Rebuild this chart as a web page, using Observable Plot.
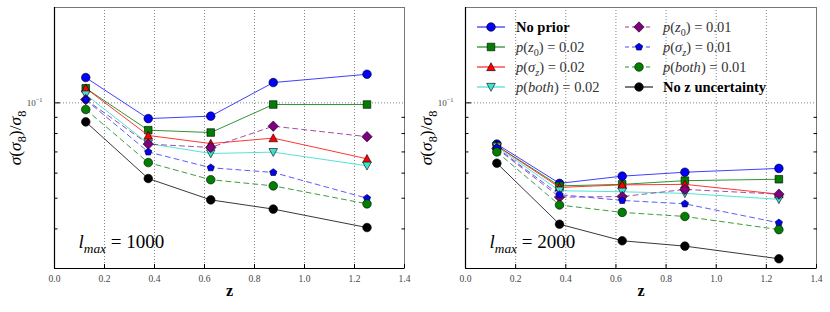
<!DOCTYPE html>
<html><head><meta charset="utf-8">
<script src="https://cdn.jsdelivr.net/npm/d3@7"></script>
<script src="https://cdn.jsdelivr.net/npm/@observablehq/plot@0.6"></script>
<style>
body{margin:0;background:#fff;}
#wrap{position:relative;width:830px;height:312px;display:flex;}
#wrap svg{display:block;}
#legend{position:absolute;left:415px;top:0;pointer-events:none;}
</style></head><body><div id="wrap"></div>
<script>
// ---- data ----
const zBins = [0.125, 0.375, 0.625, 0.875, 1.25];
const xTicks = [0, 0.2, 0.4, 0.6, 0.8, 1.0, 1.2, 1.4];
const xGrid = [0.2, 0.4, 0.6, 0.8, 1.0, 1.2];
const yMajor = [0.1];
const yMinor = [0.04, 0.05, 0.06, 0.07, 0.08, 0.09];
const yDomain = [0.03, 0.2];
const xDomain = [0, 1.4];

// lmax = 1000
const noPrior_1000   = [0.1202, 0.0892, 0.0908, 0.1159, 0.1231];
const pz0_002_1000   = [0.1112, 0.0820, 0.0806, 0.0988, 0.0988];
const psz_002_1000   = [0.1112, 0.0789, 0.0744, 0.0774, 0.0666];
const pboth_002_1000 = [0.1062, 0.0744, 0.0692, 0.0699, 0.0633];
const pz0_001_1000   = [0.1024, 0.0741, 0.0723, 0.0844, 0.0782];
const psz_001_1000   = [0.1022, 0.0700, 0.0624, 0.0603, 0.0500];
const pboth_001_1000 = [0.0953, 0.0648, 0.0572, 0.0547, 0.0480];
const noZ_1000       = [0.0871, 0.0577, 0.0494, 0.0462, 0.0404];

// lmax = 2000
const noPrior_2000   = [0.0741, 0.0557, 0.0587, 0.0604, 0.0621];
const pz0_002_2000   = [0.0732, 0.0547, 0.0553, 0.0568, 0.0574];
const psz_002_2000   = [0.0732, 0.0541, 0.0551, 0.0553, 0.0515];
const pboth_002_2000 = [0.0727, 0.0528, 0.0524, 0.0518, 0.0496];
const pz0_001_2000   = [0.0718, 0.0504, 0.0506, 0.0533, 0.0515];
const psz_001_2000   = [0.0721, 0.0513, 0.0492, 0.0480, 0.0418];
const pboth_001_2000 = [0.0700, 0.0476, 0.0451, 0.0438, 0.0398];
const noZ_2000       = [0.0645, 0.0414, 0.0367, 0.0353, 0.0322];

// legend labels (rich text parts)
const legendLabels = [
  [{t:"No prior", b:true}],
  [{t:"p",it:true},{t:"("},{t:"z",it:true},{t:"0",sub:true},{t:") = 0.02"}],
  [{t:"p",it:true},{t:"("},{t:"σ",it:true},{t:"z",it:true,sub:true},{t:") = 0.02"}],
  [{t:"p",it:true},{t:"("},{t:"both",it:true},{t:") = 0.02"}],
  [{t:"p",it:true},{t:"("},{t:"z",it:true},{t:"0",sub:true},{t:") = 0.01"}],
  [{t:"p",it:true},{t:"("},{t:"σ",it:true},{t:"z",it:true,sub:true},{t:") = 0.01"}],
  [{t:"p",it:true},{t:"("},{t:"both",it:true},{t:") = 0.01"}],
  [{t:"No z uncertainty", b:true}]
];
const yLabelParts = [{t:"σ",it:true},{t:"("},{t:"σ",it:true},{t:"8",sub:true},{t:")/"},{t:"σ",it:true},{t:"8",sub:true}];
const lmaxParts1 = [{t:"l",it:true},{t:"max",it:true,sub:true},{t:" = 1000"}];
const lmaxParts2 = [{t:"l",it:true},{t:"max",it:true,sub:true},{t:" = 2000"}];

// ---- symbols ----
const symbols = {
  circle: {draw(c, s){ const r = Math.sqrt(s/Math.PI); c.moveTo(r,0); c.arc(0,0,r,0,2*Math.PI); c.closePath(); }},
  square: {draw(c, s){ const h = Math.sqrt(s/Math.PI); c.rect(-h,-h,2*h,2*h); }},
  triUp: {draw(c, s){ const h = Math.sqrt(s/Math.PI); c.moveTo(0,-h); c.lineTo(h,h*0.85); c.lineTo(-h,h*0.85); c.closePath(); }},
  triDown: {draw(c, s){ const h = Math.sqrt(s/Math.PI); c.moveTo(0,h); c.lineTo(h,-h*0.85); c.lineTo(-h,-h*0.85); c.closePath(); }},
  diamond: {draw(c, s){ const h = Math.sqrt(s/Math.PI); c.moveTo(0,-h); c.lineTo(h,0); c.lineTo(0,h); c.lineTo(-h,0); c.closePath(); }},
  pentagon: {draw(c, s){ const h = Math.sqrt(s/Math.PI); for (let k=0;k<5;k++){ const a=-Math.PI/2+k*2*Math.PI/5; const x=h*Math.cos(a), y=h*Math.sin(a); if(k===0) c.moveTo(x,y); else c.lineTo(x,y);} c.closePath(); }}
};

const seriesStyle = [
  {color:"#0000ff", line:"#2a2aff", dash:null,  symbol:"circle",   r:4.3},
  {color:"#008000", line:"#1a8a1a", dash:null,  symbol:"square",   r:3.8},
  {color:"#ff0000", line:"#ff2020", dash:null,  symbol:"triUp",    r:4.3},
  {color:"#40e0d0", line:"#40e0d0", dash:null,  symbol:"triDown",  r:4.3},
  {color:"#800080", line:"#9a3a9a", dash:"5,4", symbol:"diamond",  r:5.2},
  {color:"#0000ff", line:"#4a4aff", dash:"5,4", symbol:"pentagon", r:3.8},
  {color:"#008000", line:"#2a922a", dash:"5,4", symbol:"circle",   r:4.3},
  {color:"#000000", line:"#222222", dash:null,  symbol:"circle",   r:4.3}
];

const SERIF = "'Liberation Serif', serif";

function setRich(sel, parts, base) {
  sel.each(function() {
    const t = d3.select(this);
    t.text(null);
    let shift = 0;
    for (const p of parts) {
      const target = p.sub ? 0.28 : p.sup ? -0.42 : 0;
      const ts = t.append("tspan").text(p.t);
      ts.attr("font-style", p.it ? "italic" : "normal");
      if (p.b) ts.attr("font-weight", "bold");
      if (p.sub || p.sup) ts.attr("font-size", (base*0.7) + "px");
      const delta = (target - shift) * base;
      if (delta) ts.attr("dy", delta);
      shift = target;
    }
  });
}

function textsWith(svg, s) {
  return d3.select(svg).selectAll("text").filter(function(){ return this.textContent === s; });
}

function makePanel(seriesValues, lmaxParts, ml, mr) {
  const rows = [];
  seriesValues.forEach((vals, s) => vals.forEach((v, j) => rows.push({s, z: zBins[j], v})));
  const grid = {stroke:"#333", strokeOpacity:0.75, strokeDasharray:"1,2", strokeWidth:0.8};
  const marks = [
    Plot.gridX(xGrid, grid),
    Plot.gridY(yMajor, grid)
  ];
  seriesValues.forEach((vals, s) => {
    const st = seriesStyle[s];
    const d = rows.filter(r => r.s === s);
    marks.push(Plot.line(d, {x:"z", y:"v", stroke: st.line, strokeWidth:1, strokeOpacity:0.9, strokeDasharray: st.dash || undefined}));
    marks.push(Plot.dot(d, {x:"z", y:"v", symbol: symbols[st.symbol], r: st.r, fill: st.color, stroke:"#000", strokeWidth:0.6}));
  });
  marks.push(
    Plot.frame({stroke:"#777"}),
    Plot.ruleX([xDomain[0]], {stroke:"#000", strokeWidth:1.2}),
    Plot.ruleY([yDomain[0]], {stroke:"#000", strokeWidth:1.2}),
    Plot.axisX({ticks: xTicks, tickFormat: d => d.toFixed(1), tickSize: -4, tickPadding: 11, fontSize: 9.5, color:"#000", fill:"#444", label: null}),
    Plot.axisY({ticks: yMajor, tickFormat: () => "TEN", tickSize: -6, tickPadding: 18, fontSize: 9, fill:"#444", label: null}),
    Plot.axisY({ticks: yMinor, tickFormat: () => "", tickSize: -3.5, label: null}),
    Plot.axisY({anchor: "right", ticks: yMinor, tickFormat: () => "", tickSize: -3.5, label: null}),
    Plot.text(["z"], {frameAnchor: "bottom", dy: 27, fontSize: 16, fontWeight: "bold"}),
    Plot.text(["YLABEL"], {frameAnchor: "left", textAnchor: "middle", rotate: -90, dx: -39, fontSize: 17.5}),
    Plot.text(["LMAX"], {frameAnchor: "bottom-left", textAnchor: "start", dx: 24, dy: -20.5, fontSize: 19})
  );
  const svg = Plot.plot({
    width: 415, height: 312,
    marginLeft: ml, marginRight: mr, marginTop: 7, marginBottom: 44,
    x: {domain: xDomain},
    y: {type: "log", domain: yDomain},
    style: {background: "#fff", overflow: "visible", fontFamily: SERIF},
    marks
  });
  setRich(textsWith(svg, "YLABEL"), yLabelParts, 17.5);
  setRich(textsWith(svg, "LMAX"), lmaxParts, 19);
  setRich(textsWith(svg, "TEN"), [{t:"10"},{t:"−1",sup:true}], 9);
  return svg;
}

const wrap = document.getElementById("wrap");
wrap.appendChild(makePanel([noPrior_1000, pz0_002_1000, psz_002_1000, pboth_002_1000, pz0_001_1000, psz_001_1000, pboth_001_1000, noZ_1000], lmaxParts1, 54, 11));
wrap.appendChild(makePanel([noPrior_2000, pz0_002_2000, psz_002_2000, pboth_002_2000, pz0_001_2000, psz_001_2000, pboth_001_2000, noZ_2000], lmaxParts2, 50, 14));

// ---- legend (overlay on right panel) ----
const leg = d3.select(wrap).append("svg").attr("id","legend").attr("width",415).attr("height",312);
const colX = [[62, 90, 101], [210, 238, 248]]; // line start, line end, text x (relative to right panel)
const rowY = [27, 47, 67, 87];
legendLabels.forEach((parts, i) => {
  const col = i < 4 ? 0 : 1, row = i % 4;
  const st = seriesStyle[i];
  const [x0, x1, tx] = colX[col];
  const y = rowY[row];
  leg.append("line").attr("x1", x0).attr("x2", x1).attr("y1", y).attr("y2", y)
    .attr("stroke", st.line).attr("stroke-width", 1.2).attr("stroke-dasharray", st.dash ? "4,3" : null);
  leg.append("path").attr("transform", `translate(${(x0+x1)/2},${y})`)
    .attr("d", d3.symbol().type(symbols[st.symbol]).size(Math.PI*st.r*st.r)())
    .attr("fill", st.color).attr("stroke", "#000").attr("stroke-width", 0.6);
  const t = leg.append("text").attr("x", tx).attr("y", y).attr("dy", "0.35em")
    .attr("font-family", SERIF).attr("font-size", 14.5).attr("fill", "#333");
  setRich(t, parts, 14.5);
  t.selectAll("tspan").filter(function(){ return this.getAttribute("font-weight")==="bold"; }).attr("fill","#000");
});
</script>
</body></html>
